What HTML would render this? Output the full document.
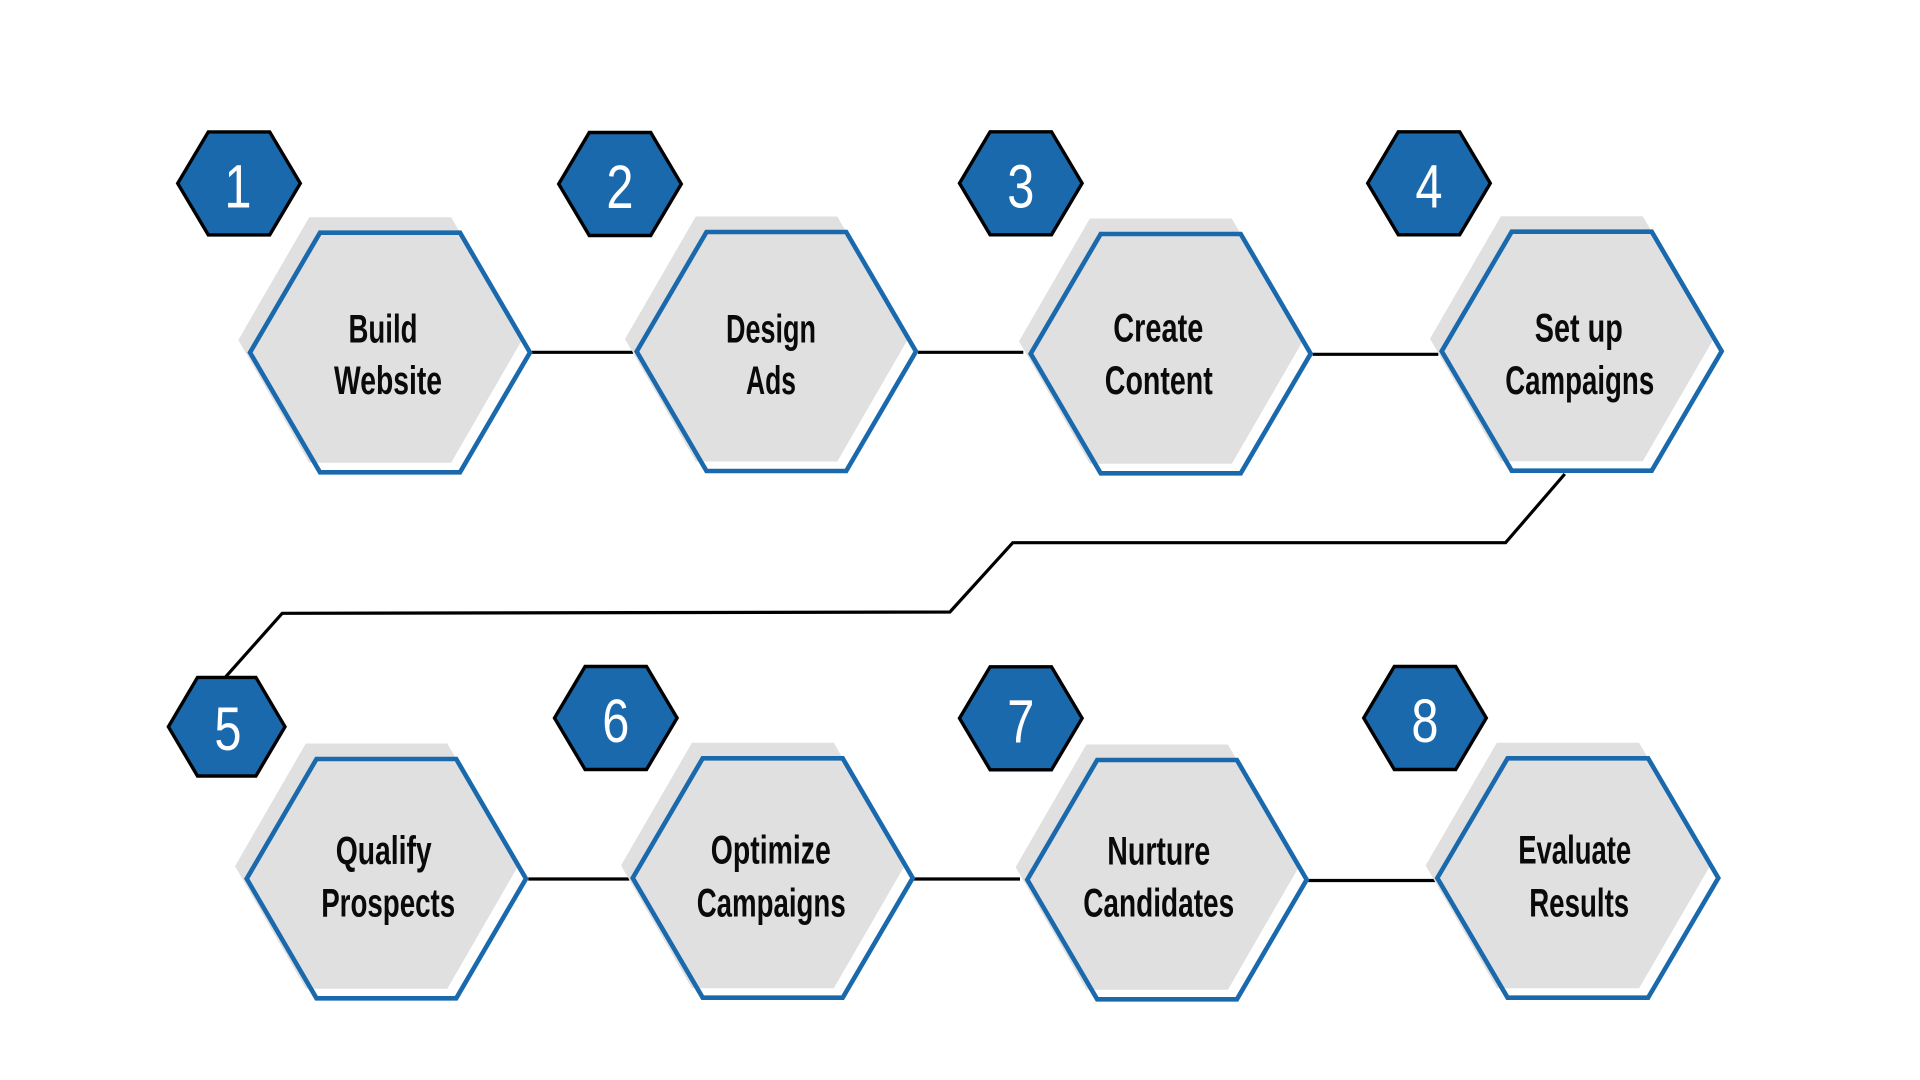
<!DOCTYPE html>
<html>
<head>
<meta charset="utf-8">
<style>
  html, body { margin: 0; padding: 0; background: #ffffff; }
  body { width: 1920px; height: 1080px; overflow: hidden; }
  svg { display: block; }
  .lbl { font-family: "Liberation Sans", Arial, sans-serif; font-weight: bold; font-size: 40px; fill: #0a0a0a; }
  .num { font-family: "Liberation Sans", Arial, sans-serif; font-weight: normal; font-size: 61px; fill: #ffffff; }
</style>
</head>
<body>
<svg width="1920" height="1080" viewBox="0 0 1920 1080" xmlns="http://www.w3.org/2000/svg">
  <rect x="0" y="0" width="1920" height="1080" fill="#ffffff"/>

  <!-- connectors -->
  <g stroke="#000000" stroke-width="3.2" fill="none" stroke-linejoin="miter">
    <line x1="531.7" y1="352.3" x2="633" y2="352.3"/>
    <line x1="918" y1="352.3" x2="1023.3" y2="352.3"/>
    <line x1="1312.7" y1="354.3" x2="1438.3" y2="354.3"/>
    <line x1="528.3" y1="879" x2="629.3" y2="879"/>
    <line x1="913.3" y1="879" x2="1020" y2="879"/>
    <line x1="1308.3" y1="880.5" x2="1435" y2="880.5"/>
    <polyline points="1564.8,474 1505.6,542.7 1012.8,542.7 949.9,612 282.2,613.3 225.8,676.7"/>
  </g>

  <!-- gray shadow hexes -->
  <g fill="#e0e0e0">
    <polygon points="238.3,340 309.2,217.2 451.1,217.2 522,340 451.1,462.8 309.2,462.8"/>
    <polygon points="625,339 695.8,216.5 837.3,216.5 908,339 837.3,461.5 695.8,461.5"/>
    <polygon points="1019,341.2 1089.9,218.5 1231.8,218.5 1302.7,341.2 1231.8,463.8 1089.9,463.8"/>
    <polygon points="1430,338.7 1500.9,216.2 1642.8,216.2 1713.7,338.7 1642.8,461.2 1500.9,461.2"/>
    <polygon points="235,866.2 305.8,743.5 447.3,743.5 518,866.2 447.3,988.8 305.8,988.8"/>
    <polygon points="621,865.5 691.9,742.8 833.8,742.8 904.7,865.5 833.8,988.2 691.9,988.2"/>
    <polygon points="1015.6,867.2 1086.4,744.5 1227.9,744.5 1298.7,867.2 1227.9,989.8 1086.4,989.8"/>
    <polygon points="1425.6,865.5 1496.8,742.8 1639.1,742.8 1710.3,865.5 1639.1,988.2 1496.8,988.2"/>
  </g>

  <!-- blue outline hexes -->
  <g fill="none" stroke="#1b69ad" stroke-width="4.6" stroke-linejoin="miter">
    <polygon points="250,352.5 320,232.7 460,232.7 530,352.5 460,472.3 320,472.3"/>
    <polygon points="636.7,351.5 706.5,232 846.2,232 916,351.5 846.2,471 706.5,471"/>
    <polygon points="1030.7,353.7 1100.7,234 1240.7,234 1310.7,353.7 1240.7,473.3 1100.7,473.3"/>
    <polygon points="1441.7,351.2 1511.7,231.7 1651.7,231.7 1721.7,351.2 1651.7,470.7 1511.7,470.7"/>
    <polygon points="246.7,878.7 316.5,759 456.2,759 526,878.7 456.2,998.3 316.5,998.3"/>
    <polygon points="632.7,878 702.7,758.3 842.7,758.3 912.7,878 842.7,997.7 702.7,997.7"/>
    <polygon points="1027.3,879.7 1097.2,760 1236.9,760 1306.7,879.7 1236.9,999.3 1097.2,999.3"/>
    <polygon points="1437.3,878 1507.6,758.3 1648.1,758.3 1718.3,878 1648.1,997.7 1507.6,997.7"/>
  </g>

  <!-- number badges -->
  <g fill="#1a69ad" stroke="#000000" stroke-width="3.4" stroke-linejoin="miter">
    <polygon points="177.7,183.4 208.3,131.9 269.7,131.9 300.3,183.4 269.7,234.9 208.3,234.9"/>
    <polygon points="558.7,184 589.3,132.5 650.7,132.5 681.3,184 650.7,235.5 589.3,235.5"/>
    <polygon points="959.5,183.3 990.1,131.8 1051.5,131.8 1082.1,183.3 1051.5,234.8 990.1,234.8"/>
    <polygon points="1367.7,183.3 1398.3,131.8 1459.7,131.8 1490.3,183.3 1459.7,234.8 1398.3,234.8"/>
    <polygon points="168.4,726.7 197.5,677.4 255.9,677.4 285,726.7 255.9,776 197.5,776"/>
    <polygon points="554.5,718 585.1,666.5 646.5,666.5 677.1,718 646.5,769.5 585.1,769.5"/>
    <polygon points="959.5,718.3 990.1,666.8 1051.5,666.8 1082.1,718.3 1051.5,769.8 990.1,769.8"/>
    <polygon points="1363.7,718 1394.3,666.5 1455.7,666.5 1486.3,718 1455.7,769.5 1394.3,769.5"/>
  </g>

  <!-- numbers -->
  <g class="num" text-anchor="middle">
    <text class="num" transform="translate(238,207.4) scale(0.8,1)" x="0" y="0">1</text>
    <text class="num" transform="translate(620,208) scale(0.8,1)" x="0" y="0">2</text>
    <text class="num" transform="translate(1020.8,207.3) scale(0.8,1)" x="0" y="0">3</text>
    <text class="num" transform="translate(1429,207.3) scale(0.8,1)" x="0" y="0">4</text>
    <text class="num" transform="translate(228,750) scale(0.8,1)" x="0" y="0">5</text>
    <text class="num" transform="translate(615.8,742) scale(0.8,1)" x="0" y="0">6</text>
    <text class="num" transform="translate(1020.8,742.3) scale(0.8,1)" x="0" y="0">7</text>
    <text class="num" transform="translate(1425,742) scale(0.8,1)" x="0" y="0">8</text>
  </g>

  <!-- labels -->
  <g text-anchor="middle">
    <text class="lbl" x="383" y="342.3" textLength="69" lengthAdjust="spacingAndGlyphs">Build</text>
    <text class="lbl" x="388" y="394" textLength="108" lengthAdjust="spacingAndGlyphs">Website</text>

    <text class="lbl" x="771" y="342.3" textLength="90" lengthAdjust="spacingAndGlyphs">Design</text>
    <text class="lbl" x="771" y="394" textLength="50" lengthAdjust="spacingAndGlyphs">Ads</text>

    <text class="lbl" x="1158.3" y="341.7" textLength="90" lengthAdjust="spacingAndGlyphs">Create</text>
    <text class="lbl" x="1158.8" y="394" textLength="108" lengthAdjust="spacingAndGlyphs">Content</text>

    <text class="lbl" x="1578.8" y="341.7" textLength="88" lengthAdjust="spacingAndGlyphs">Set up</text>
    <text class="lbl" x="1579.7" y="394" textLength="149" lengthAdjust="spacingAndGlyphs">Campaigns</text>

    <text class="lbl" x="383.7" y="863.8" textLength="96" lengthAdjust="spacingAndGlyphs">Qualify</text>
    <text class="lbl" x="388.2" y="916.7" textLength="134" lengthAdjust="spacingAndGlyphs">Prospects</text>

    <text class="lbl" x="770.8" y="863.3" textLength="120" lengthAdjust="spacingAndGlyphs">Optimize</text>
    <text class="lbl" x="771.2" y="916.7" textLength="149" lengthAdjust="spacingAndGlyphs">Campaigns</text>

    <text class="lbl" x="1158.8" y="864.5" textLength="103" lengthAdjust="spacingAndGlyphs">Nurture</text>
    <text class="lbl" x="1158.7" y="916.7" textLength="151" lengthAdjust="spacingAndGlyphs">Candidates</text>

    <text class="lbl" x="1574.7" y="863.3" textLength="113" lengthAdjust="spacingAndGlyphs">Evaluate</text>
    <text class="lbl" x="1579.2" y="916.7" textLength="100" lengthAdjust="spacingAndGlyphs">Results</text>
  </g>
</svg>
</body>
</html>
